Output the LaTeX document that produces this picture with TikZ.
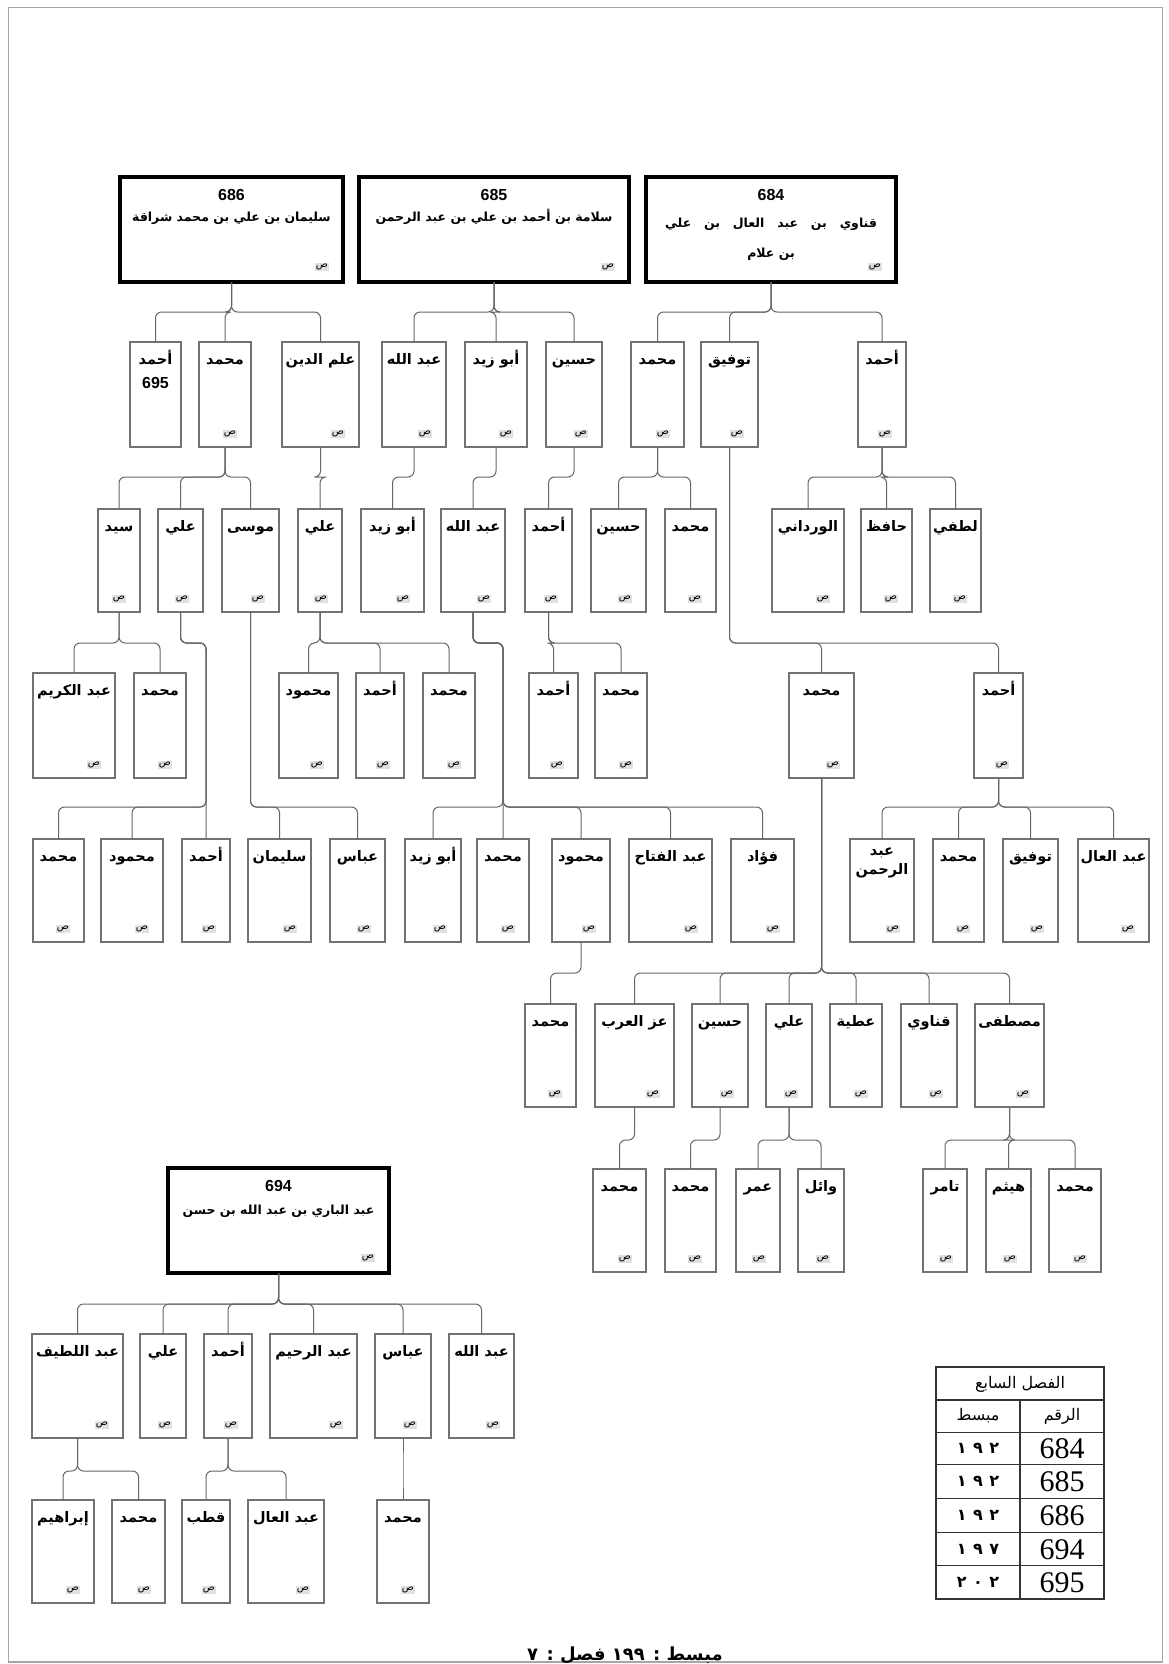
\documentclass[tikz,border=0pt]{standalone}
\usepackage{fontspec}
\setmainfont{Liberation Sans}
\newfontfamily\ar[Script=Arabic]{DejaVu Sans}
\newfontfamily\serifdig{Liberation Serif}
\TeXXeTstate=1
\tikzset{
  pbx/.style={draw=black!55, line width=1.1pt, inner sep=0pt, outer sep=0pt},
  tbx/.style={draw=black, line width=3.2pt, inner sep=0pt, outer sep=0pt},
  nm/.style={font=\ar\bfseries\fontsize{14.5}{17}\selectfont, inner sep=0pt, anchor=base},
  tnm/.style={font=\ar\bfseries\fontsize{12.5}{15}\selectfont, inner sep=0pt, anchor=base},
  numf/.style={font=\bfseries\fontsize{16}{18}\selectfont, inner sep=0pt},
  sn/.style={font=\ar\fontsize{10}{11}\selectfont, fill=black!12, inner sep=1.2pt},
  cnx/.style={draw=black!60, line width=1pt, rounded corners=6pt},
  tbl/.style={draw=black!80, line width=1.3pt},
  tdig/.style={font=\serifdig\fontsize{30}{32}\selectfont, inner sep=0pt},
  adig/.style={font=\ar\bfseries\fontsize{16}{18}\selectfont\addfontfeature{LetterSpace=40}, inner sep=0pt},
  thd/.style={font=\ar\fontsize{16}{18}\selectfont, inner sep=0pt}
}
% small box with name and page mark
\newcommand\famb[6]{%
  \node[pbx,minimum width={(#3-#2)*1pt},minimum height={(#5-#4)*1pt}] (#1) at ({(#2+#3)/2},{(#4+#5)/2}) {};
  \node[nm] (#1-n) at ([yshift=-22pt]#1.north) {#6};
  \node[sn] (#1-s) at ([xshift=-21pt,yshift=13pt]#1.south east) {ص};
}
% small box without page mark
\newcommand\famn[6]{%
  \node[pbx,minimum width={(#3-#2)*1pt},minimum height={(#5-#4)*1pt}] (#1) at ({(#2+#3)/2},{(#4+#5)/2}) {};
  \node[nm] (#1-n) at ([yshift=-22pt]#1.north) {#6};
}
% thick top box
\newcommand\famt[6]{%
  \node[tbx,minimum width={(#3-#2)*1pt},minimum height={(#5-#4)*1pt}] (#1) at ({(#2+#3)/2},{(#4+#5)/2}) {};
  \node[numf] (#1-k) at ([yshift=-18pt]#1.north) {#6};
  \node[sn] (#1-s) at ([xshift=-21pt,yshift=15pt]#1.south east) {ص};
}
% connector parent -> child with bar at y
\newcommand\cn[3]{%
  \path (0,#3) coordinate (cb);
  \draw[cnx] (#1.south) -- (#1.south |- cb) -- (#2.north |- cb) -- (#2.north);
}
% connector with a jog: parent, child, jog y, jog x, bar y
\newcommand\cj[5]{%
  \path (#4,#3) coordinate (cja) (#4,#5) coordinate (cjb);
  \draw[cnx] (#1.south) -- (#1.south |- cja) -- (cja) -- (cjb) -- (#2.north |- cjb) -- (#2.north);
}
\begin{document}
\begin{tikzpicture}[x=1pt,y=-1pt]
\useasboundingbox (0,0) rectangle (1169,1664);
\fill[white] (0,0) rectangle (1169,1664);
\draw[black!35, line width=1.5pt] (8.5,7.5) rectangle (1162.5,1662);

% ---------- top boxes ----------
\famt{t686}{120}{343}{177}{282}{686}
\node[tnm] (t686-n) at ([yshift=-45pt]t686.north) {\beginR سليمان بن علي بن محمد شراقة\endR};
\famt{t685}{359}{629}{177}{282}{685}
\node[tnm] (t685-n) at ([yshift=-45pt]t685.north) {\beginR سلامة بن أحمد بن علي بن عبد الرحمن\endR};
\famt{t684}{646}{896}{177}{282}{684}
\node[tnm] (t684-n) at ([yshift=-50pt]t684.north) {\makebox[212pt][s]{\beginR قناوي بن عبد العال بن علي\endR}};
\node[tnm] (t684-m) at ([yshift=-80pt]t684.north) {\beginR بن علام\endR};

% ---------- row 1 ----------
\famn{r1a}{130}{181}{342}{447}{أحمد}
\node[numf] (r1a-k) at ([yshift=-41pt]r1a.north) {695};
\famb{r1b}{199}{251}{342}{447}{محمد}
\famb{r1c}{282}{359}{342}{447}{\beginR علم الدين\endR}
\famb{r1d}{382}{446}{342}{447}{\beginR عبد الله\endR}
\famb{r1e}{465}{527}{342}{447}{\beginR أبو زيد\endR}
\famb{r1f}{546}{602}{342}{447}{حسين}
\famb{r1g}{631}{684}{342}{447}{محمد}
\famb{r1h}{701}{758}{342}{447}{توفيق}
\famb{r1i}{858}{906}{342}{447}{أحمد}

% ---------- row 2 ----------
\famb{r2a}{98}{140}{509}{612}{سيد}
\famb{r2b}{158}{203}{509}{612}{علي}
\famb{r2c}{222}{279}{509}{612}{موسى}
\famb{r2d}{298}{342}{509}{612}{علي}
\famb{r2e}{361}{424}{509}{612}{\beginR أبو زيد\endR}
\famb{r2f}{441}{505}{509}{612}{\beginR عبد الله\endR}
\famb{r2g}{525}{572}{509}{612}{أحمد}
\famb{r2h}{591}{646}{509}{612}{حسين}
\famb{r2i}{665}{716}{509}{612}{محمد}
\famb{r2j}{772}{844}{509}{612}{الورداني}
\famb{r2k}{861}{912}{509}{612}{حافظ}
\famb{r2l}{930}{981}{509}{612}{لطفي}

% ---------- row 3 ----------
\famb{r3a}{33}{115}{673}{778}{\beginR عبد الكريم\endR}
\famb{r3b}{134}{186}{673}{778}{محمد}
\famb{r3c}{279}{338}{673}{778}{محمود}
\famb{r3d}{356}{404}{673}{778}{أحمد}
\famb{r3e}{423}{475}{673}{778}{محمد}
\famb{r3f}{529}{578}{673}{778}{أحمد}
\famb{r3g}{595}{647}{673}{778}{محمد}
\famb{r3h}{789}{854}{673}{778}{محمد}
\famb{r3i}{974}{1023}{673}{778}{أحمد}

% ---------- row 4 ----------
\famb{r4a}{33}{84}{839}{942}{محمد}
\famb{r4b}{101}{163}{839}{942}{محمود}
\famb{r4c}{182}{230}{839}{942}{أحمد}
\famb{r4d}{248}{311}{839}{942}{سليمان}
\famb{r4e}{330}{385}{839}{942}{عباس}
\famb{r4f}{405}{461}{839}{942}{\beginR أبو زيد\endR}
\famb{r4g}{477}{529}{839}{942}{محمد}
\famb{r4h}{552}{610}{839}{942}{محمود}
\famb{r4i}{629}{712}{839}{942}{\beginR عبد الفتاح\endR}
\famb{r4j}{731}{794}{839}{942}{فؤاد}
\node[pbx,minimum width=64pt,minimum height=103pt] (r4k) at (882,890.5) {};
\node[nm] (r4k-n) at ([yshift=-16pt]r4k.north) {عبد};
\node[nm] (r4k-m) at ([yshift=-35pt]r4k.north) {الرحمن};
\node[sn] (r4k-s) at ([xshift=-21pt,yshift=13pt]r4k.south east) {ص};
\famb{r4l}{933}{984}{839}{942}{محمد}
\famb{r4m}{1003}{1058}{839}{942}{توفيق}
\famb{r4n}{1078}{1149}{839}{942}{\beginR عبد العال\endR}

% ---------- row 5 ----------
\famb{r5a}{525}{576}{1004}{1107}{محمد}
\famb{r5b}{595}{674}{1004}{1107}{\beginR عز العرب\endR}
\famb{r5c}{692}{748}{1004}{1107}{حسين}
\famb{r5d}{766}{812}{1004}{1107}{علي}
\famb{r5e}{830}{882}{1004}{1107}{عطية}
\famb{r5f}{901}{957}{1004}{1107}{قناوي}
\famb{r5g}{975}{1044}{1004}{1107}{مصطفى}

% ---------- row 6 ----------
\famb{r6a}{593}{646}{1169}{1272}{محمد}
\famb{r6b}{665}{716}{1169}{1272}{محمد}
\famb{r6c}{736}{780}{1169}{1272}{عمر}
\famb{r6d}{798}{844}{1169}{1272}{وائل}
\famb{r6e}{923}{967}{1169}{1272}{تامر}
\famb{r6f}{986}{1031}{1169}{1272}{هيثم}
\famb{r6g}{1049}{1101}{1169}{1272}{محمد}

% ---------- 694 tree ----------
\famt{t694}{168}{389}{1168}{1273}{694}
\node[tnm] (t694-n) at ([yshift=-46pt]t694.north) {\beginR عبد الباري بن عبد الله بن حسن\endR};
\famb{aa}{32}{123}{1334}{1438}{\beginR عبد اللطيف\endR}
\famb{ab}{140}{186}{1334}{1438}{علي}
\famb{ac}{204}{252}{1334}{1438}{أحمد}
\famb{ad}{270}{357}{1334}{1438}{\beginR عبد الرحيم\endR}
\famb{ae}{375}{431}{1334}{1438}{عباس}
\famb{af}{449}{514}{1334}{1438}{\beginR عبد الله\endR}
\famb{ba}{32}{94}{1500}{1603}{إبراهيم}
\famb{bb}{112}{165}{1500}{1603}{محمد}
\famb{bc}{182}{230}{1500}{1603}{قطب}
\famb{bd}{248}{324}{1500}{1603}{\beginR عبد العال\endR}
\famb{be}{377}{429}{1500}{1603}{محمد}

% ---------- connectors ----------
\cn{t686}{r1a}{312} \cn{t686}{r1b}{312} \cn{t686}{r1c}{312}
\cn{t685}{r1d}{312} \cn{t685}{r1e}{312} \cn{t685}{r1f}{312}
\cn{t684}{r1g}{312} \cn{t684}{r1h}{312} \cn{t684}{r1i}{312}

\cn{r1b}{r2a}{477} \cn{r1b}{r2b}{477} \cn{r1b}{r2c}{477}
\cn{r1c}{r2d}{477} \cn{r1d}{r2e}{477} \cn{r1e}{r2f}{477}
\cn{r1f}{r2g}{477} \cn{r1g}{r2h}{477} \cn{r1g}{r2i}{477}
\cn{r1i}{r2j}{477} \cn{r1i}{r2k}{477} \cn{r1i}{r2l}{477}
\cn{r1h}{r3h}{643} \cn{r1h}{r3i}{643}

\cn{r2a}{r3a}{643} \cn{r2a}{r3b}{643}
\cn{r2d}{r3c}{643} \cn{r2d}{r3d}{643} \cn{r2d}{r3e}{643}
\cn{r2g}{r3f}{643} \cn{r2g}{r3g}{643}

\cj{r2b}{r4a}{643}{206}{807} \cj{r2b}{r4b}{643}{206}{807} \cj{r2b}{r4c}{643}{206}{807}
\cn{r2c}{r4d}{807} \cn{r2c}{r4e}{807}
\cj{r2f}{r4f}{643}{503}{807} \cj{r2f}{r4g}{643}{503}{807} \cj{r2f}{r4h}{643}{503}{807}
\cj{r2f}{r4i}{643}{503}{807} \cj{r2f}{r4j}{643}{503}{807}
\cn{r3i}{r4k}{807} \cn{r3i}{r4l}{807} \cn{r3i}{r4m}{807} \cn{r3i}{r4n}{807}

\cn{r4h}{r5a}{973}
\cn{r3h}{r5b}{973} \cn{r3h}{r5c}{973} \cn{r3h}{r5d}{973}
\cn{r3h}{r5e}{973} \cn{r3h}{r5f}{973} \cn{r3h}{r5g}{973}

\cn{r5b}{r6a}{1140} \cn{r5c}{r6b}{1140}
\cn{r5d}{r6c}{1140} \cn{r5d}{r6d}{1140}
\cn{r5g}{r6e}{1140} \cn{r5g}{r6f}{1140} \cn{r5g}{r6g}{1140}

\cn{t694}{aa}{1304} \cn{t694}{ab}{1304} \cn{t694}{ac}{1304}
\cn{t694}{ad}{1304} \cn{t694}{ae}{1304} \cn{t694}{af}{1304}
\cn{aa}{ba}{1471} \cn{aa}{bb}{1471}
\cn{ac}{bc}{1471} \cn{ac}{bd}{1471}
\cn{ae}{be}{1471}

% ---------- table ----------
\draw[tbl] (936,1367) rectangle (1104,1599);
\foreach \yy in {1400,1432.3,1464.3,1498.3,1532.7,1565.7} {\draw[tbl] (936,\yy) -- (1104,\yy);}
\draw[tbl] (1020,1400) -- (1020,1599);
\node[thd] (th) at (1020,1384) {\beginR الفصل السابع\endR};
\node[thd] (h1) at (978,1416) {مبسط};
\node[thd] (h2) at (1062,1416) {الرقم};
\node[tdig] (n1) at (1062,1448.3) {684};
\node[tdig] (n2) at (1062,1481.3) {685};
\node[tdig] (n3) at (1062,1515.5) {686};
\node[tdig] (n4) at (1062,1549.2) {694};
\node[tdig] (n5) at (1062,1582.4) {695};
\node[adig] (p1) at (978,1448.3) {١٩٢};
\node[adig] (p2) at (978,1481.3) {١٩٢};
\node[adig] (p3) at (978,1515.5) {١٩٢};
\node[adig] (p4) at (978,1549.2) {١٩٧};
\node[adig] (p5) at (978,1582.4) {٢٠٢};

% ---------- footer ----------
\node[font=\ar\bfseries\fontsize{18}{20}\selectfont, inner sep=0pt] (foot) at (625,1655) {\beginR مبسط : ١٩٩ فصل : ٧\endR};
\end{tikzpicture}
\end{document}
